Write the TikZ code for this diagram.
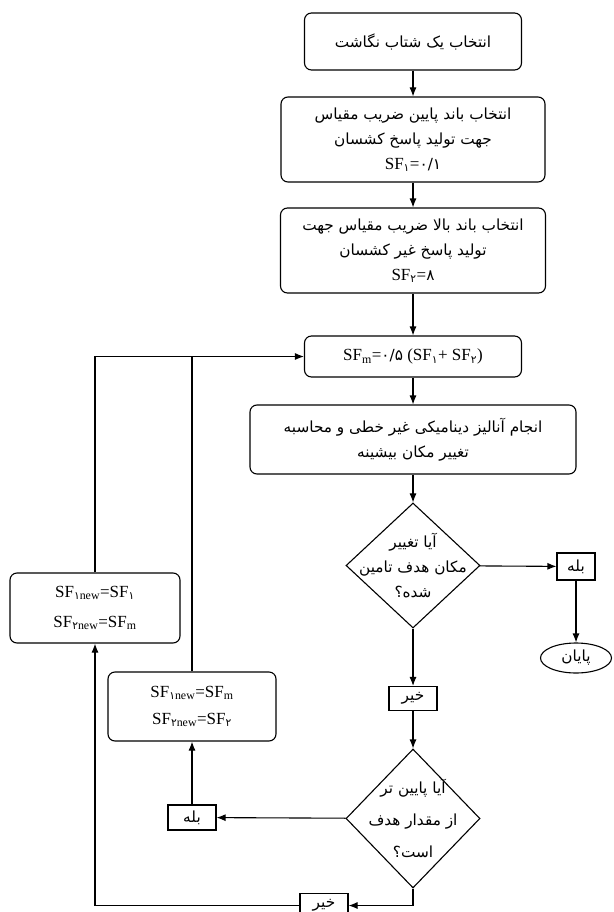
\documentclass[tikz,border=0pt]{standalone}
\usepackage{fontspec}
\setmainfont{Liberation Serif}
\newfontfamily\farsifont[Script=Arabic,Scale=0.9]{DejaVu Sans}
\TeXXeTstate=1
\usetikzlibrary{positioning,shapes.geometric,arrows.meta}
\newcommand{\fatext}[1]{{\farsifont\beginR #1\endR}}
\newcommand{\fanum}[1]{{\farsifont #1}}

\begin{document}
\begin{tikzpicture}[x=1pt, y=-1pt, >={Latex[length=9pt,width=7pt]}, line width=1.1pt,
    procbox/.style={draw, rounded corners=7pt, align=center, inner sep=2pt,
        font=\fontsize{17}{25}\selectfont},
    decision/.style={draw, diamond, inner sep=0pt, minimum width=134pt, minimum height=125pt},
    decisiontext/.style={align=center, font=\fontsize{17}{25}\selectfont\farsifont},
    smallbox/.style={draw, minimum width=48pt, minimum height=24pt, inner sep=1pt,
        font=\fontsize{17}{18}\selectfont},
    endnode/.style={draw, ellipse, minimum width=71pt, minimum height=30pt, inner sep=0pt,
        font=\fontsize{17}{18}\selectfont}]
    \useasboundingbox (0,0) rectangle (613,912);

    % Main column
    \node[procbox, minimum width=217pt, minimum height=57pt] (select) at (413,41.5)
        {\fatext{انتخاب یک شتاب نگاشت}};
    \node[procbox, minimum width=264pt, minimum height=85pt] (lower) at (413,139.5)
        {\fatext{انتخاب باند پایین ضریب مقیاس}\\
         \fatext{جهت تولید پاسخ کشسان}\\
         SF\textsubscript{\fanum{۱}}=\fanum{۰/۱}};
    \node[procbox, minimum width=265pt, minimum height=85pt] (upper) at (413,250.5)
        {\fatext{انتخاب باند بالا ضریب مقیاس جهت}\\
         \fatext{تولید پاسخ غیر کشسان}\\
         SF\textsubscript{\fanum{۲}}=\fanum{۸}};
    \node[procbox, minimum width=217pt, minimum height=41pt] (middle) at (413,356.5)
        {SF\textsubscript{m}=\fanum{۰/۵} (SF\textsubscript{\fanum{۱}}+ SF\textsubscript{\fanum{۲}})};
    \node[procbox, minimum width=326pt, minimum height=69pt] (analysis) at (413,439.5)
        {\fatext{انجام آنالیز دینامیکی غیر خطی و محاسبه}\\
         \fatext{تغییر مکان بیشینه}};

    % Decisions
    \node[decision, label={[decisiontext]center:{\beginR آیا تغییر\endR\\
        \beginR مکان هدف تامین\endR\\ \beginR شده؟\endR}}] (reached) at (413,565.5) {};
    \node[smallbox, minimum width=38pt, minimum height=27pt] (yes1) at (576,566.5) {\fatext{بله}};
    \node[endnode] (finish) at (576,658) {\fatext{پایان}};
    \node[smallbox] (no1) at (413,698.5) {\fatext{خیر}};
    \node[decision, minimum height=139pt, label={[decisiontext, font=\fontsize{17}{32}\selectfont\farsifont]center:{\beginR آیا پایین تر\endR\\
        \beginR از مقدار هدف\endR\\ \beginR است؟\endR}}] (below) at (413,818.5) {};
    \node[smallbox, minimum height=25pt] (yes2) at (192,817.5) {\fatext{بله}};
    \node[smallbox] (no2) at (324,905.5) {\fatext{خیر}};

    % Update boxes
    \node[procbox, minimum width=170pt, minimum height=70pt, font=\fontsize{17}{30}\selectfont] (updA) at (95,608)
        {SF\textsubscript{\fanum{۱}new}=SF\textsubscript{\fanum{۱}}\\
         SF\textsubscript{\fanum{۲}new}=SF\textsubscript{m}};
    \node[procbox, minimum width=168pt, minimum height=69pt, font=\fontsize{17}{27}\selectfont] (updB) at (192,706.5)
        {SF\textsubscript{\fanum{۱}new}=SF\textsubscript{m}\\
         SF\textsubscript{\fanum{۲}new}=SF\textsubscript{\fanum{۲}}};
    \coordinate (joinB) at (updB.north |- middle.west);

    % Connectors
    \draw[->] (select) -- (lower);
    \draw[->] (lower) -- (upper);
    \draw[->] (upper) -- (middle);
    \draw[->] (middle) -- (analysis);
    \draw[->] (analysis) -- (reached);
    \draw[->] (reached) -- (yes1);
    \draw[->] (yes1) -- (finish);
    \draw[->] (reached) -- (no1);
    \draw[->] (no1) -- (below);
    \draw[->] (below) -- (yes2);
    \draw[->] (yes2) -- (updB);
    \draw[->] (below.south) |- (no2.east);
    \draw[->] (no2.west) -| (updA.south);
    \draw[->] (updA.north) |- (middle.west);
    \draw (updB.north) -- (joinB);
\end{tikzpicture}
\end{document}
